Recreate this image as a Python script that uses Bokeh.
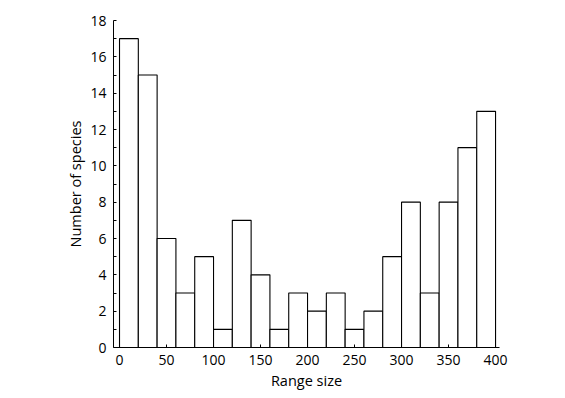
from bokeh.plotting import figure
from bokeh.models import FixedTicker, Range1d
from bokeh.embed import file_html
from bokeh.resources import INLINE

bin_left = [0, 20, 40, 60, 80, 100, 120, 140, 160, 180, 200, 220, 240, 260, 280, 300, 320, 340, 360, 380]
bin_right = [20, 40, 60, 80, 100, 120, 140, 160, 180, 200, 220, 240, 260, 280, 300, 320, 340, 360, 380, 400]
counts = [17, 15, 6, 3, 5, 1, 7, 4, 1, 3, 2, 3, 1, 2, 5, 8, 3, 8, 11, 13]
x_ticks = [0, 50, 100, 150, 200, 250, 300, 350, 400]
y_ticks = [0, 2, 4, 6, 8, 10, 12, 14, 16, 18]
y_minor = [1, 3, 5, 7, 9, 11, 13, 15, 17]

FONT = "Open Sans"

p = figure(frame_width=386, frame_height=327, output_backend="svg", toolbar_location=None,
           x_range=Range1d(-6.4, 404.2), y_range=Range1d(0, 18),
           min_border_left=113, min_border_top=20, min_border_right=30, min_border_bottom=30)
p.outline_line_color = None
p.xgrid.grid_line_color = None
p.ygrid.grid_line_color = None
p.background_fill_color = "white"
p.border_fill_color = "white"

p.quad(left=bin_left, right=bin_right, top=counts, bottom=0,
       fill_color="white", line_color="black", line_width=1.1)

for ax in (p.xaxis[0], p.yaxis[0]):
    ax.major_tick_in = 3
    ax.major_tick_out = 0
    ax.minor_tick_in = 3
    ax.minor_tick_out = 0
    ax.axis_line_color = "black"
    ax.major_tick_line_color = "black"
    ax.minor_tick_line_color = "black"
    ax.major_label_text_font = FONT
    ax.major_label_text_font_size = "14px"
    ax.major_label_text_color = "black"
    ax.axis_label_text_font = FONT
    ax.axis_label_text_font_size = "14.5px"
    ax.axis_label_text_font_style = "normal"
    ax.axis_label_text_color = "black"

p.xaxis.ticker = FixedTicker(ticks=x_ticks)
p.yaxis.ticker = FixedTicker(ticks=y_ticks, minor_ticks=y_minor)
p.xaxis.axis_label = "Range size"
p.yaxis.axis_label = "Number of species"
p.xaxis.major_label_standoff = 7
p.yaxis.major_label_standoff = 7
p.xaxis.axis_label_standoff = 3
p.yaxis.axis_label_standoff = 2

open("out.html", "w").write(file_html(p, INLINE))
